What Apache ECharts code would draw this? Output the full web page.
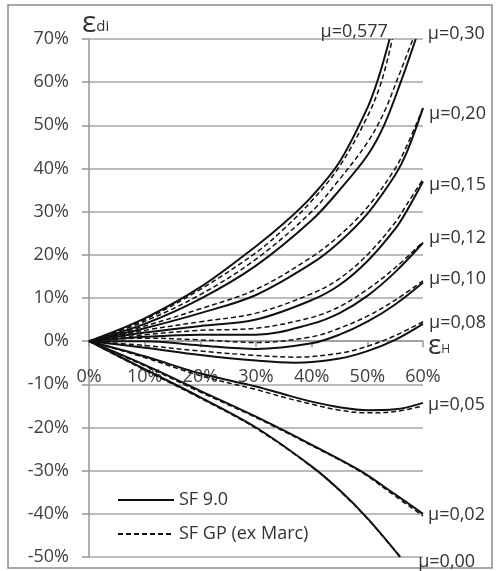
<!DOCTYPE html>
<html>
<head>
<meta charset="utf-8">
<script src="https://cdn.jsdelivr.net/npm/echarts@6/dist/echarts.min.js"></script>
<style>
  html, body { margin: 0; padding: 0; background: #fff; }
  #chart { width: 496px; height: 571px; }
</style>
</head>
<body>
<div id="chart"></div>
<script>
// axis ticks
var xTicks = [0, 10, 20, 30, 40, 50, 60]
var yTicks = [-50, -40, -30, -20, -10, 0, 10, 20, 30, 40, 50, 60, 70]

var muLabels = ['μ=0,577', 'μ=0,30', 'μ=0,20', 'μ=0,15', 'μ=0,12', 'μ=0,10', 'μ=0,08', 'μ=0,05', 'μ=0,02', 'μ=0,00']

// SF 9.0 (solid) - [eps_H %, eps_di %]
var sf0577 = [[0, 0], [10, 5.3], [20, 12.5], [30, 22], [35, 27.3], [40, 33.5], [45, 41.5], [50, 54], [52, 61], [54, 70]]
var sf030 = [[0, 0], [10, 4], [20, 9.8], [30, 17.5], [40, 28], [45, 35], [50, 43], [53, 50], [56, 60], [58.7, 70]]
var sf020 = [[0, 0], [10, 3], [20, 6.5], [30, 10.7], [40, 18], [45, 23], [50, 29.5], [55, 38.5], [57, 43.5], [60, 54]]
var sf015 = [[0, 0], [10, 2], [20, 3.5], [30, 5], [40, 9.5], [45, 13], [50, 18.5], [55, 26], [57, 30], [60, 37]]
var sf012 = [[0, 0], [10, 1], [20, 1.5], [30, 1.5], [40, 4], [45, 6.5], [50, 10.5], [55, 16], [60, 22.8]]
var sf010 = [[0, 0], [10, 0], [20, -1], [30, -1.8], [40, -0.5], [45, 1.5], [50, 4.5], [55, 8.5], [60, 13.6]]
var sf008 = [[0, 0], [10, -1.5], [20, -3.2], [30, -4.5], [37, -5], [45, -4], [50, -2.3], [55, 0.3], [60, 4]]
var sf005 = [[0, 0], [10, -3.5], [20, -7.5], [30, -10.5], [35, -12.3], [40, -14], [45, -15.3], [50, -16], [55, -15.8], [60, -14.3]]
var sf002 = [[0, 0], [10, -5.5], [20, -11.5], [30, -17.5], [40, -24], [48.7, -30], [55, -35.5], [60, -40]]
var sf000 = [[0, 0], [10, -6.5], [20, -13], [30, -20], [40, -29], [45, -34.5], [50, -41], [55.9, -50]]

// SF GP ex Marc (dashed)
var gp0577 = [[0, 0], [10, 5], [20, 12], [30, 20.5], [35, 26], [40, 32.5], [45, 40.5], [50, 52], [52.5, 60], [54.5, 70]]
var gp030 = [[0, 0], [10, 4.6], [20, 10.8], [30, 19], [40, 30], [45, 37.5], [50, 46], [53, 53], [55.5, 61], [58.2, 70]]
var gp020 = [[0, 0], [10, 3.5], [20, 7.5], [30, 12], [40, 19.5], [45, 24.5], [50, 31], [55, 40], [57, 45], [60, 54]]
var gp015 = [[0, 0], [10, 2.5], [20, 4.5], [30, 6.5], [40, 11], [45, 14.5], [50, 20], [55, 27.5], [57, 31.5], [60, 37.5]]
var gp012 = [[0, 0], [10, 1.5], [20, 2.5], [30, 3], [40, 5.5], [45, 8], [50, 12], [55, 17], [60, 23]]
var gp010 = [[0, 0], [10, 0.7], [20, 0.3], [30, -0.3], [40, 1], [45, 3], [50, 5.8], [55, 9.5], [60, 14]]
var gp008 = [[0, 0], [10, -1], [20, -2.3], [30, -3.3], [37, -3.7], [45, -2.8], [50, -1.2], [55, 1.3], [60, 4.5]]
var gp005 = [[0, 0], [10, -3.8], [20, -8], [30, -11.2], [35, -13], [40, -14.6], [45, -16], [50, -16.6], [55, -16.3], [60, -15]]
var gp002 = [[0, 0], [10, -5.7], [20, -11.8], [30, -17.7], [40, -24.2], [48.7, -30.2], [55, -35.9], [60, -40.5]]
var gp000 = [[0, 0], [10, -6.7], [20, -13.2], [30, -20.2], [40, -29.1], [45, -34.6], [50, -41.1], [55.9, -50]]

var sfCurves = [sf0577, sf030, sf020, sf015, sf012, sf010, sf008, sf005, sf002, sf000]
var gpCurves = [gp0577, gp030, gp020, gp015, gp012, gp010, gp008, gp005, gp002, gp000]

// where the mu label sits relative to the end of the solid curve
var labelOffsets = [[-69, -7], [12, -5], [6, 6], [6, 3], [6, -5], [6, -4], [6, -1], [5, 2], [5, 1], [18, 5]]

var FONT = '"Open Sans", "Noto Sans", sans-serif'
var GRID_TOP = 39
var GRID_BOTTOM = 14
var chart = echarts.init(document.getElementById('chart'))

// pixel distance from the grid bottom up to the 0 % line (x axis crosses there)
var plotH = 571 - GRID_TOP - GRID_BOTTOM
var zeroShift = plotH * (0 - yTicks[0]) / (yTicks[yTicks.length - 1] - yTicks[0])

var series = []
sfCurves.forEach(function(d, i) {
  series.push({
    name: 'SF 9.0',
    type: 'line',
    data: d,
    smooth: 0.35,
    symbol: 'none',
    lineStyle: { color: '#111', width: 2, type: 'solid' },
    itemStyle: { color: '#111' },
    endLabel: {
      show: true,
      formatter: muLabels[i],
      distance: 0,
      offset: labelOffsets[i],
      color: '#333',
      fontSize: 18,
      fontFamily: FONT
    },
    z: 3
  })
})
gpCurves.forEach(function(d) {
  series.push({
    name: 'SF GP (ex Marc)',
    type: 'line',
    data: d,
    smooth: 0.35,
    symbol: 'none',
    lineStyle: { color: '#111', width: 1.5, type: [5, 3] },
    itemStyle: { color: '#111' },
    z: 2
  })
})

chart.setOption({
  animation: false,
  backgroundColor: '#fff',
  grid: { left: 89, right: 73, top: GRID_TOP, bottom: GRID_BOTTOM, containLabel: false, outerBoundsMode: 'none' },
  legend: {
    orient: 'vertical',
    left: 112,
    top: 486,
    itemWidth: 56,
    itemHeight: 14,
    itemGap: 16,
    itemStyle: { opacity: 0 },
    textStyle: { fontSize: 18, color: '#333', fontFamily: FONT },
    data: ['SF 9.0', 'SF GP (ex Marc)']
  },
  xAxis: {
    type: 'value',
    position: 'bottom',
    offset: -zeroShift,
    min: xTicks[0],
    max: xTicks[xTicks.length - 1],
    interval: 10,
    axisLine: { show: true, onZero: false, lineStyle: { color: '#999', width: 1.5 } },
    axisTick: { show: true, inside: false, length: 6, lineStyle: { color: '#999', width: 1.5 } },
    axisLabel: { formatter: '{value}%', margin: 27, fontSize: 18, color: '#404040', fontFamily: FONT },
    splitLine: { show: false }
  },
  yAxis: {
    type: 'value',
    min: yTicks[0],
    max: yTicks[yTicks.length - 1],
    interval: 10,
    axisLine: { show: true, onZero: false, lineStyle: { color: '#999', width: 1.5 } },
    axisTick: { show: true, length: 7, lineStyle: { color: '#999', width: 1.5 } },
    axisLabel: { formatter: '{value}%', margin: 20, fontSize: 18, color: '#404040', fontFamily: FONT },
    splitLine: { show: true, lineStyle: { color: '#a6a6a6', width: 1.5 } }
  },
  graphic: [
    {
      type: 'rect',
      shape: { x: 8, y: 5, width: 484, height: 563 },
      style: { fill: null, stroke: '#8c8c8c', lineWidth: 1.5 },
      silent: true
    },
    {
      type: 'text',
      left: 82,
      top: 8,
      style: {
        text: '{e|ε}{s|di}',
        rich: {
          e: { fontSize: 30, fontFamily: FONT, fill: '#333' },
          s: { fontSize: 15, fontFamily: FONT, fill: '#333', padding: [8, 0, 0, 0] }
        }
      }
    },
    {
      type: 'text',
      left: 428,
      top: 332,
      style: {
        text: '{e|ε}{s|H}',
        rich: {
          e: { fontSize: 28, fontFamily: FONT, fill: '#333' },
          s: { fontSize: 12, fontFamily: FONT, fill: '#333', padding: [8, 0, 0, 0] }
        }
      }
    }
  ],
  series: series
})
</script>
</body>
</html>
